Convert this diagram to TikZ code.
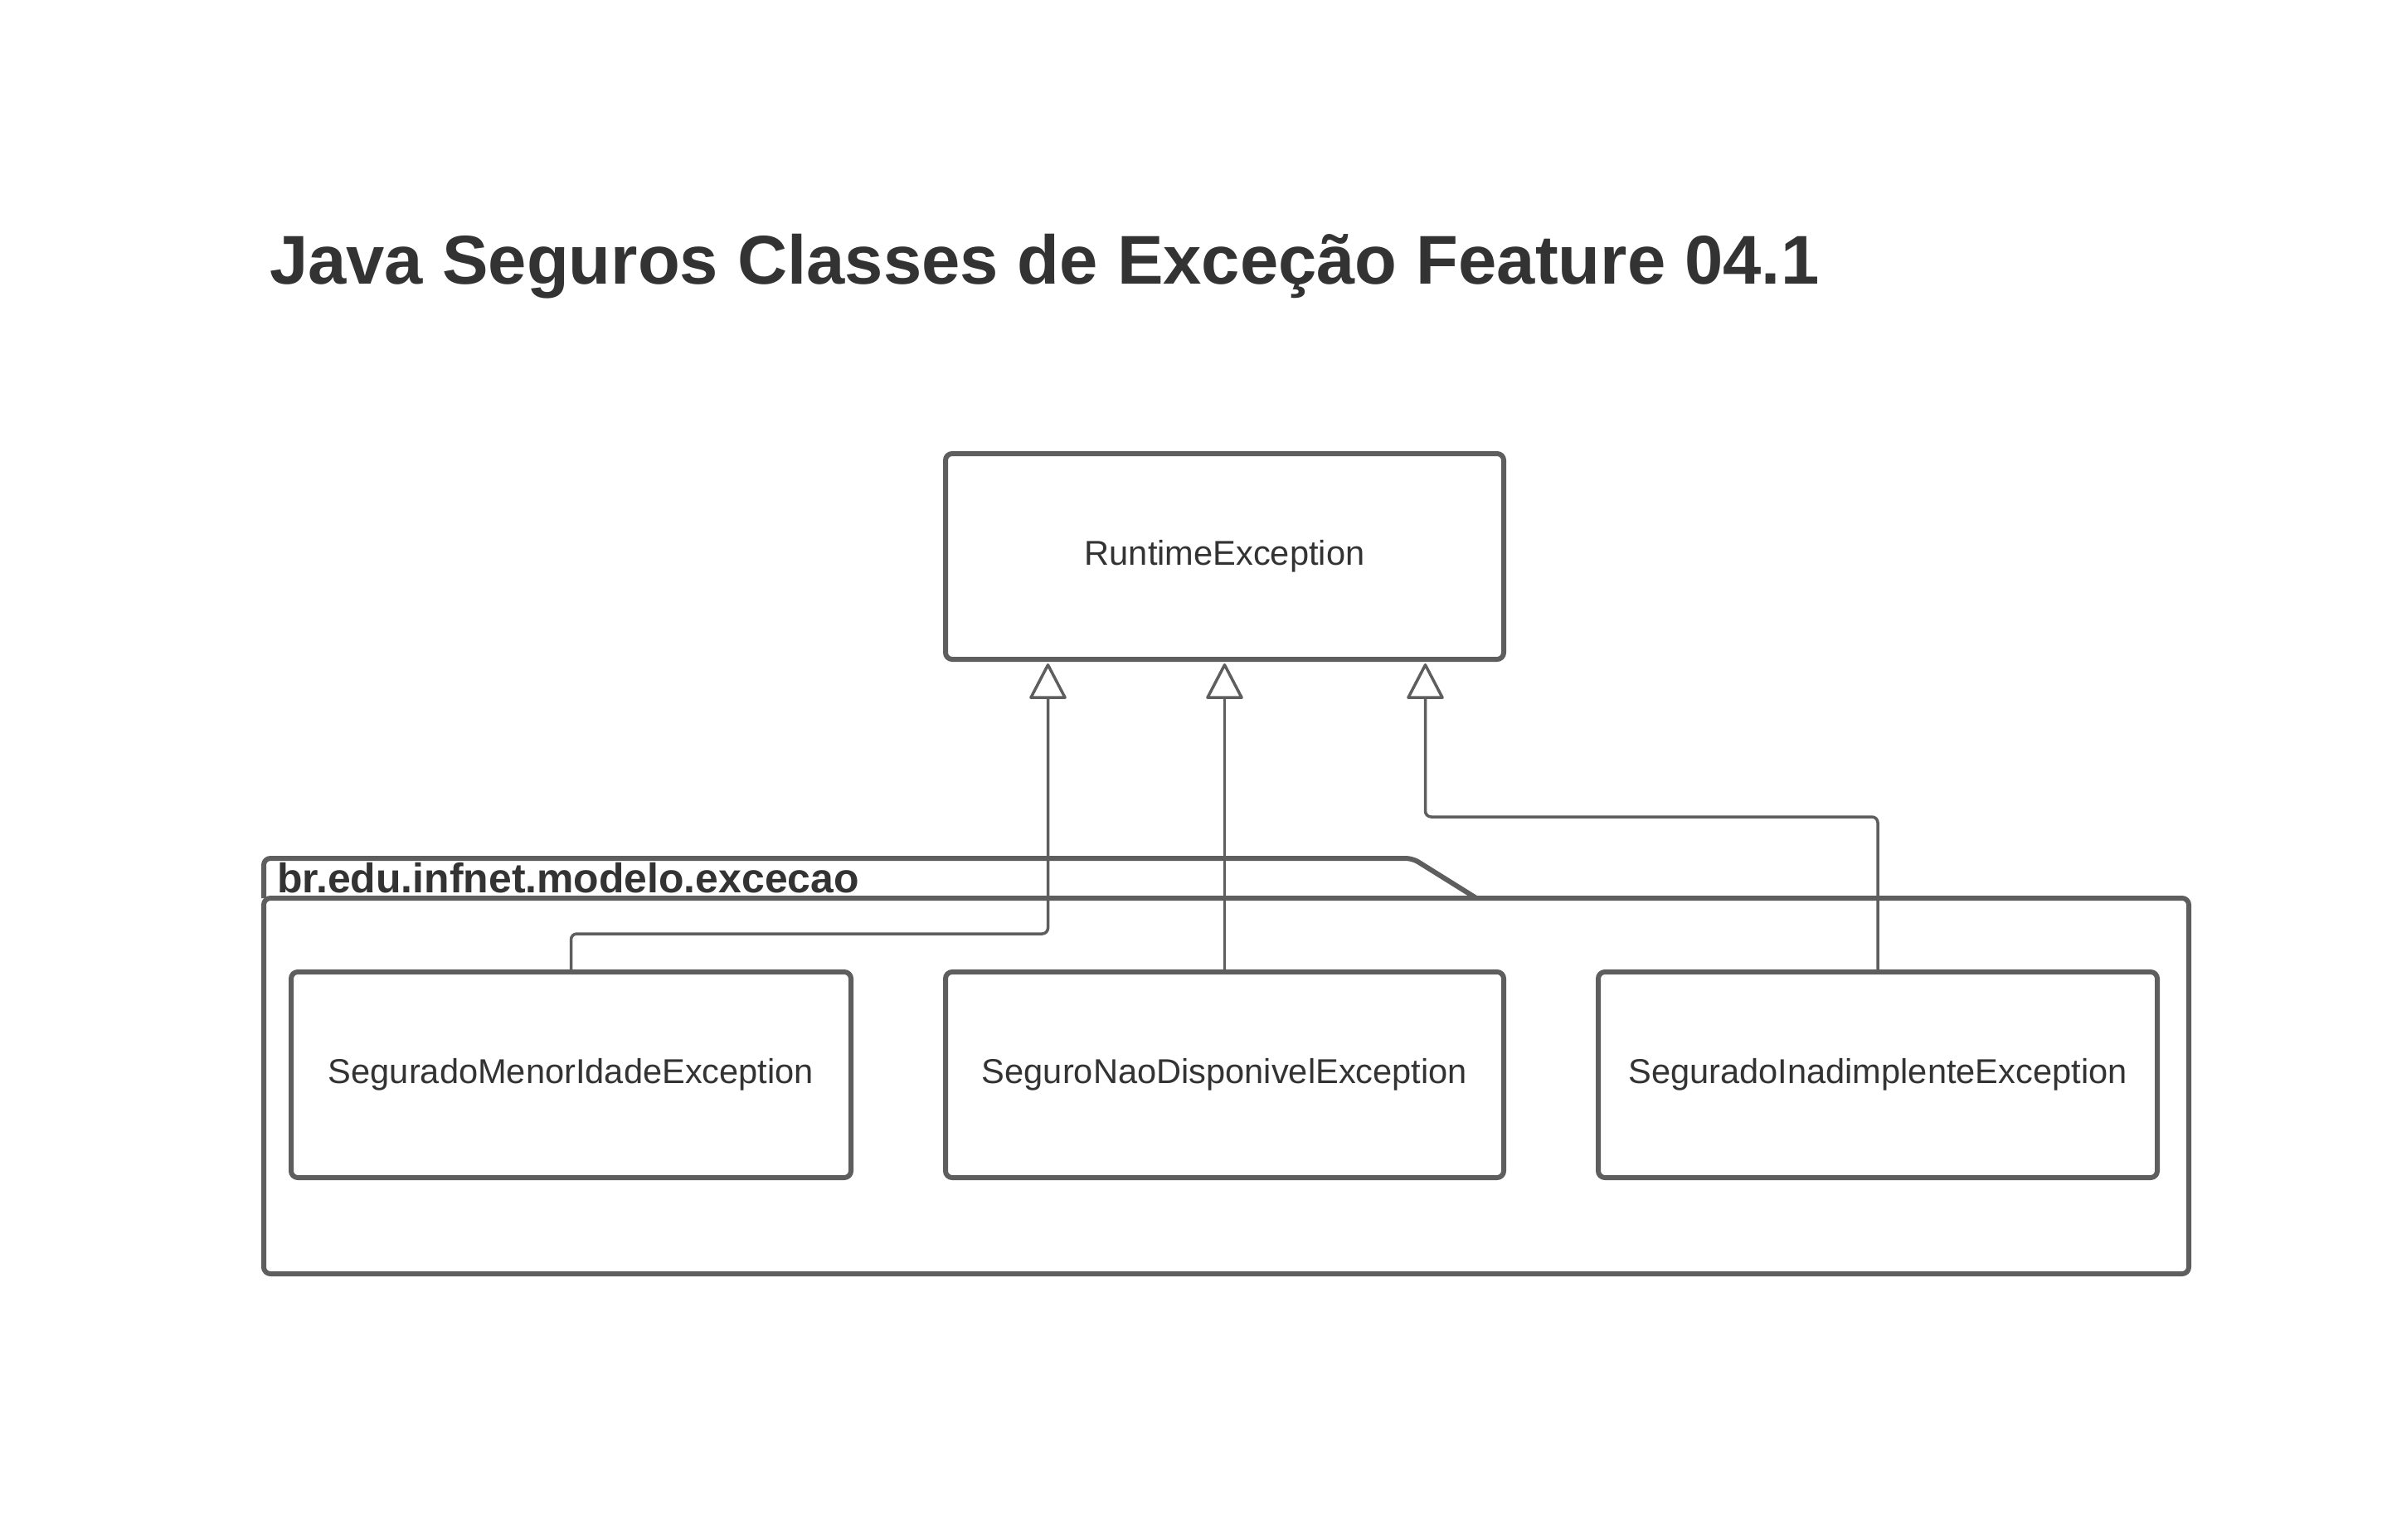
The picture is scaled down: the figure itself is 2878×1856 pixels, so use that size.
\documentclass[tikz,border=0pt]{standalone}
\usepackage{fontspec}
\setmainfont{Liberation Sans}
\usetikzlibrary{arrows.meta}
\definecolor{linegray}{HTML}{5E5E5E}
\definecolor{inkgray}{HTML}{333333}
\tikzset{
  classbox/.style={draw=linegray, line width=6pt, rounded corners=8pt, fill=white,
    minimum height=248pt, text=inkgray, font=\fontsize{41.6}{50}\selectfont, inner sep=0pt},
  gen/.style={draw=linegray, line width=3.5pt, rounded corners=7pt,
    -{Triangle[open, length=45pt, width=46pt, round]}, shorten >=2pt},
  pkgline/.style={draw=linegray, line width=6pt, rounded corners=8pt, line join=round}
}
\begin{document}
\begin{tikzpicture}[x=1pt, y=-1pt]
  \useasboundingbox (0,0) rectangle (2878,1856);
  \fill[white] (0,0) rectangle (2878,1856);

  % title
  \node[anchor=base west, inner sep=0pt, text=inkgray, font=\fontsize{83.2}{99}\bfseries\selectfont]
    (title) at (325,342) {Java Seguros Classes de Exceção Feature 04.1};

  % package frame with its tab
  \draw[pkgline] (318,1083) -- (318,1035) -- (1703,1035) -- (1780,1083);
  \draw[pkgline] (318,1083) rectangle (2639,1536);
  \node[anchor=base west, inner sep=0pt, text=inkgray, font=\fontsize{49.9}{59}\bfseries\selectfont]
    (pkg) at (334,1076) {br.edu.infnet.modelo.excecao};

  % superclass
  \node[classbox, minimum width=673pt] (rt) at (1476.5,671) {RuntimeException};

  % subclasses
  \node[classbox, minimum width=675pt] (c1) at (688.5,1296) {SeguradoMenorIdadeException};
  \node[classbox, minimum width=673pt] (c2) at (1476.5,1296) {SeguroNaoDisponivelException};
  \node[classbox, minimum width=674pt] (c3) at (2264,1296) {SeguradoInadimplenteException};

  % generalisation connectors
  \coordinate (a1) at ([xshift=-213pt]rt.south);
  \coordinate (a3) at ([xshift=242pt]rt.south);
  \draw[gen] (c1.north) -- ([yshift=43pt]c1.north) -| (a1);
  \draw[gen] (c2.north) -- (rt.south);
  \draw[gen] (c3.north) -- ([yshift=184pt]c3.north) -| (a3);
\end{tikzpicture}
\end{document}
